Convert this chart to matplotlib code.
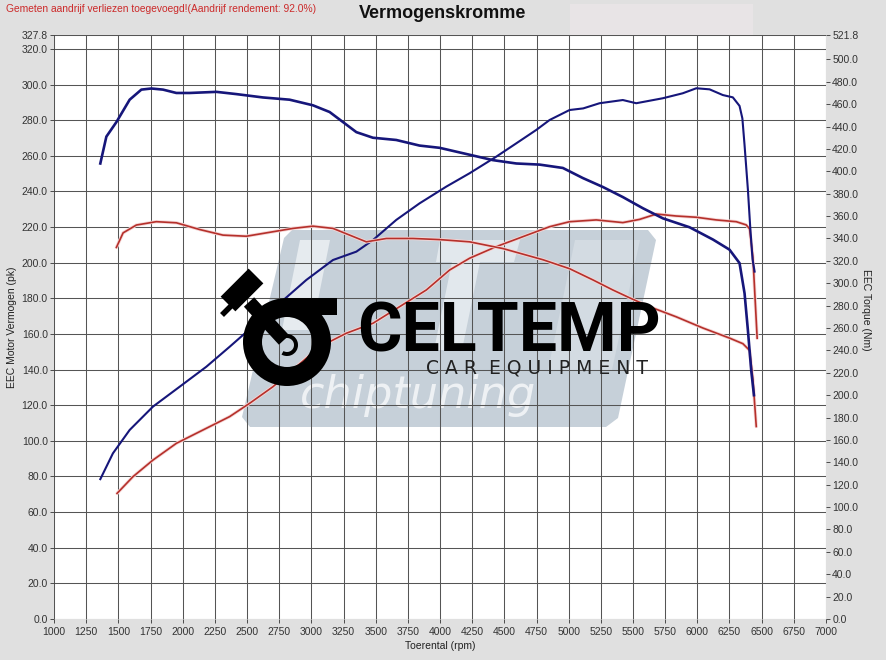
import numpy as np
import matplotlib
matplotlib.use("Agg")
import matplotlib.pyplot as plt
from matplotlib.patches import Polygon, Rectangle, Wedge, Circle

# ---------------- data ----------------
rpm_tuned_pk = [1360, 1458, 1588, 1769, 1977, 2184, 2365, 2573, 2754, 2961, 3168, 3350, 3479,
                3660, 3841, 4049, 4230, 4437, 4593, 4748, 4852, 5007, 5113, 5240, 5421, 5525,
                5732, 5887, 5992, 6095, 6198, 6276, 6328, 6350, 6367, 6393, 6411, 6429, 6445]
tuned_pk = [78.5, 93.0, 106.1, 119.2, 130.4, 141.6, 152.8, 166.0, 177.2, 190.3, 201.5, 206.2, 212.7,
            224.0, 233.3, 242.7, 250.2, 259.5, 267.0, 274.5, 280.1, 285.7, 286.6, 289.5, 291.3, 289.5,
            292.3, 295.1, 297.9, 297.3, 294.1, 292.8, 288.0, 281.0, 266.0, 241.0, 220.0, 202.0, 195.0]

rpm_tuned_nm = [1360, 1407, 1485, 1588, 1679, 1757, 1847, 1951, 2054, 2262, 2417, 2624, 2831, 3012,
                3142, 3246, 3350, 3479, 3660, 3841, 3997, 4411, 4593, 4774, 4955, 5110, 5266, 5421,
                5577, 5732, 5940, 6122, 6250, 6328, 6367, 6393, 6419, 6440]
tuned_nm = [407, 431, 444, 464, 473, 474, 473, 470, 470, 471, 469, 466, 464, 459,
            453, 444, 435, 430, 428, 423, 421, 410, 407, 406, 403, 394, 386, 377,
            367, 358, 350, 339, 330, 318, 291, 258, 222, 200]

rpm_stock_pk = [1490, 1614, 1769, 1951, 2158, 2365, 2521, 2702, 2884, 3065, 3272, 3479, 3686, 3894,
                4075, 4230, 4437, 4644, 4852, 5007, 5214, 5421, 5551, 5681, 5836, 5992, 6147, 6303,
                6380, 6406, 6432, 6465]
stock_pk = [70.5, 79.9, 89.2, 98.6, 106.1, 113.6, 121.1, 130.4, 141.6, 152.8, 160.4, 166.0, 175.3, 184.7,
            195.9, 202.5, 209.0, 214.6, 220.2, 223.0, 224.0, 222.5, 224.3, 227.3, 226.2, 225.5, 224.0, 223.0,
            221.2, 219.0, 203.0, 157.6]

rpm_stock_nm = [1485, 1537, 1640, 1795, 1951, 2132, 2313, 2495, 2650, 2857, 3012, 3168, 3298, 3427,
                3583, 3790, 3997, 4230, 4489, 4800, 5007, 5188, 5343, 5473, 5629, 5836, 6043, 6250,
                6354, 6406, 6432, 6458]
stock_nm = [332, 345, 352, 355, 354, 348, 343, 342, 345, 349, 351, 349, 343, 337,
            340, 340, 339, 337, 331, 321, 313, 303, 294, 287, 279, 270, 260, 251,
            246, 240, 214, 172]

x_ticks = list(range(1000, 7001, 250))
left_ticks = list(range(0, 321, 20)) + [327.8]
right_ticks = list(range(0, 501, 20)) + [521.8]

title = "Vermogenskromme"
note = "Gemeten aandrijf verliezen toegevoegd!(Aandrijf rendement: 92.0%)"

# ---------------- figure ----------------
W, H = 887, 660
plt.rcParams['font.family'] = ['Liberation Sans', 'DejaVu Sans']
fig = plt.figure(figsize=(W / 100, H / 100), dpi=100, facecolor='#e0e0e0')

# background overlay (pixel coordinates)
bg = fig.add_axes([0, 0, 1, 1], zorder=0)
bg.set_xlim(0, W); bg.set_ylim(H, 0); bg.axis('off')
L, R, T, B = 54, 826, 35, 619
bg.add_patch(Rectangle((L, T), R - L, B - T, facecolor='white', edgecolor='none'))
bg.add_patch(Rectangle((570, 4), 183, 31, facecolor='#e8e4e6', edgecolor='none'))
# watermark shape
bg.add_patch(Polygon([(292, 230), (648, 230), (656, 240), (618, 418), (606, 427),
                      (250, 427), (242, 417), (284, 238)],
                     closed=True, facecolor='#c6d0d9', edgecolor='none'))
# faint white cutouts
bg.add_patch(Polygon([(300, 240), (330, 240), (312, 330), (282, 330)], closed=True,
                     facecolor='#e6ebef', edgecolor='none'))
bg.add_patch(Polygon([(440, 240), (520, 240), (514, 262), (480, 262), (462, 350), (434, 350),
                      (452, 262), (436, 262)], closed=True, facecolor='#e2e8ed', edgecolor='none'))
bg.add_patch(Polygon([(575, 240), (640, 240), (612, 370), (548, 370)], closed=True,
                     facecolor='#d3dbe2', edgecolor='none'))
bg.text(418, 408, "chiptuning", fontsize=32, style='italic', color='#eef1f4',
        ha='center', va='baseline', family='DejaVu Sans', fontweight='light')

# main axes
ax = fig.add_axes([L / W, 1 - B / H, (R - L) / W, (B - T) / H], zorder=1)
ax.patch.set_visible(False)
ax.set_xlim(1000, 7000)
ax.set_ylim(0, 327.8)
ax.set_xticks(x_ticks)
ax.set_xticklabels([str(v) for v in x_ticks])
ax.set_yticks(left_ticks)
ax.set_yticklabels([f"{v:.1f}" for v in left_ticks])
ax.grid(True, color='#555555', linewidth=0.75)
for s in ax.spines.values():
    s.set_visible(False)
ax.tick_params(axis='both', labelsize=7.5, colors='#333333', length=3, width=0.6, pad=1.5)
ax.tick_params(axis='x', pad=3)

ax2 = ax.twinx()
ax2.set_zorder(2)
ax2.patch.set_visible(False)
ax2.set_ylim(0, 521.8)
ax2.set_yticks(right_ticks)
ax2.set_yticklabels([f"{v:.1f}" for v in right_ticks])
for s in ax2.spines.values():
    s.set_visible(False)
ax2.tick_params(axis='y', labelsize=7.5, colors='#333333', length=3, width=0.6, pad=1.5)

blue = '#16167a'
red = '#b5302b'
# glow under red curves
ax.plot(rpm_stock_pk, stock_pk, color='#f6d6d6', lw=2.4, zorder=3, solid_capstyle='round')
ax2.plot(rpm_stock_nm, stock_nm, color='#f6d6d6', lw=2.4, zorder=3, solid_capstyle='round')
ax.plot(rpm_stock_pk, stock_pk, color=red, lw=1.2, zorder=4)
ax2.plot(rpm_stock_nm, stock_nm, color=red, lw=1.2, zorder=4)
ax.plot(rpm_tuned_pk, tuned_pk, color=blue, lw=1.5, zorder=5)
ax2.plot(rpm_tuned_nm, tuned_nm, color=blue, lw=1.9, zorder=5)

# foreground logo overlay
fg = fig.add_axes([0, 0, 1, 1], zorder=3)
fg.set_xlim(0, W); fg.set_ylim(H, 0); fg.axis('off')
fg.patch.set_visible(False)
fg.add_patch(Wedge((287, 342), 44, 0, 360, width=19, facecolor='black', edgecolor='none'))
fg.add_patch(Rectangle((287, 298), 50, 17, facecolor='black', edgecolor='none'))
fg.plot([249, 284], [302, 340], color='black', lw=10, solid_capstyle='butt')
fg.plot([228, 256], [304, 276], color='black', lw=15, solid_capstyle='butt')
fg.plot([222, 248], [315, 289], color='black', lw=4, solid_capstyle='butt')
fg.add_patch(Wedge((287, 345), 11, 200, 120, width=4, facecolor='black', edgecolor='none'))
fg.text(509, 351, "CELTEMP", fontsize=49, fontweight='bold', family='Roboto',
        color='black', ha='center', va='baseline')
fg.text(537, 373, "C A R  E Q U I P M E N T", fontsize=13.5, family='DejaVu Sans',
        color='#222222', ha='center', va='baseline')

# texts
fig.text(443 / W, 1 - 14 / H, title, fontsize=13, fontweight='bold', ha='center', va='center',
         color='#111111')
fig.text(6 / W, 1 - 9 / H, note, fontsize=7.4, color='#cc2a2a', ha='left', va='center')
fig.text(440 / W, 1 - 646 / H, "Toerental (rpm)", fontsize=7.5, color='#222222', ha='center',
         va='center')
fig.text(12 / W, 1 - 327 / H, "EEC Motor Vermogen (pk)", fontsize=7.5, color='#222222',
         rotation=90, ha='center', va='center')
fig.text(866 / W, 1 - 310 / H, "EEC Torque (Nm)", fontsize=7.5, color='#222222',
         rotation=270, ha='center', va='center')

fig.savefig("out.png", dpi=100, facecolor=fig.get_facecolor())
